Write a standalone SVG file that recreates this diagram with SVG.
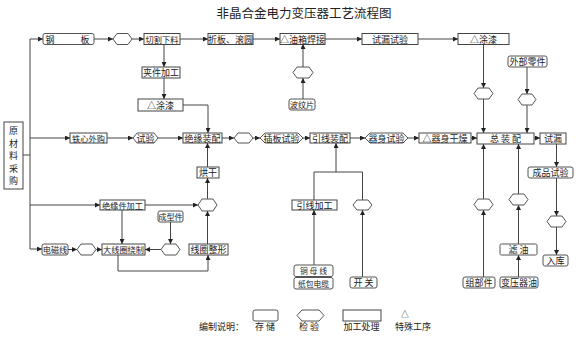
<svg xmlns="http://www.w3.org/2000/svg" width="578" height="340" viewBox="0 0 578 340">
<defs>
<marker id="ah" viewBox="0 0 6 6" refX="6" refY="3" markerWidth="5" markerHeight="5" orient="auto" markerUnits="userSpaceOnUse">
<path d="M0,0 L6,3 L0,6 z" fill="#222"/>
</marker>
</defs>
<style>
.b{fill:#fff;stroke:#444;stroke-width:1}
.s{fill:#fff;stroke:#555;stroke-width:1}
.h{fill:#fff;stroke:#555;stroke-width:1}
.t{font-family:"Noto Sans CJK SC","Liberation Sans",sans-serif;font-size:9px;fill:#222;text-anchor:middle}
.sm{font-size:8.2px}
.xs{font-size:7.8px}
.v{font-size:9px}
.ti{font-family:"Noto Sans CJK SC","Liberation Serif",serif;font-size:12.5px;fill:#222;text-anchor:middle}
.c path{fill:none;stroke:#444;stroke-width:1}
.c .a{marker-end:url(#ah)}
</style>
<rect width="578" height="340" fill="#fff"/>
<text class="ti" x="304" y="18">非晶合金电力变压器工艺流程图</text>

<g class="c" id="connectors">
<path d="M30 39 V249"/>
<path d="M23 155 H30"/>
<path class="a" d="M30 39 H43"/>
<path class="a" d="M30 138 H70"/>
<path class="a" d="M30 205 H100"/>
<path class="a" d="M30 249 H42"/>
<path class="a" d="M94 39 H113"/>
<path class="a" d="M132 39 H144"/>
<path class="a" d="M180 39 H208"/>
<path class="a" d="M253 39 H280"/>
<path class="a" d="M325 39 H362"/>
<path class="a" d="M418 39 H458"/>
<path class="a" d="M164 44 V67"/>
<path class="a" d="M164 78 V99"/>
<path class="a" d="M183 105 H208 V133"/>
<path class="a" d="M107 138 H133"/>
<path class="a" d="M158 138 H183"/>
<path class="a" d="M222 138 H234"/>
<path class="a" d="M253 138 H260"/>
<path class="a" d="M303 138 H310"/>
<path class="a" d="M350 138 H365"/>
<path class="a" d="M408 138 H419"/>
<path class="a" d="M471 138 H477"/>
<path class="a" d="M534 138 H540"/>
<path class="a" d="M145 205 H198"/>
<path class="a" d="M207.5 199 V178"/>
<path class="a" d="M207.5 167 V143"/>
<path class="a" d="M122 210 V244"/>
<path class="a" d="M170.5 222 V244"/>
<path class="a" d="M161 249.5 H145"/>
<path class="a" d="M68 249.5 H77"/>
<path class="a" d="M96 249.5 H102"/>
<path class="a" d="M118 255 V271 H208 V255"/>
<path class="a" d="M207.5 244 V211"/>
<path d="M314 200 V172 H362.5 V200"/>
<path class="a" d="M336 172 V143"/>
<path class="a" d="M314 265 V210"/>
<path class="a" d="M362.5 277 V210"/>
<path class="a" d="M303 99 V78"/>
<path class="a" d="M303 67 V44"/>
<path class="a" d="M483.5 44 V88"/>
<path class="a" d="M483.5 99 V133"/>
<path class="a" d="M527 67 V94"/>
<path class="a" d="M527 105 V133"/>
<path class="a" d="M483.5 277 V210"/>
<path class="a" d="M483.5 199 V144"/>
<path class="a" d="M518.5 277 V255"/>
<path class="a" d="M518.5 244 V205"/>
<path class="a" d="M518.5 194 V144"/>
<path class="a" d="M556.5 144 V167"/>
<path class="a" d="M556.5 178 V216"/>
<path class="a" d="M556.5 227 V255"/>
</g>

<g id="n-yuancailiao"><rect class="b" x="4" y="122" width="19" height="67"/>
<text class="t v" x="13.5" y="134">原</text>
<text class="t v" x="13.5" y="146.5">材</text>
<text class="t v" x="13.5" y="159">料</text>
<text class="t v" x="13.5" y="171.5">采</text>
<text class="t v" x="13.5" y="184">购</text></g>

<g id="n-gangban"><rect class="s" x="43" y="33.5" width="51" height="11" rx="2"/>
<text class="t" x="50" y="42.5">钢</text><text class="t" x="85" y="42.5">板</text></g>
<g id="n-hex1"><polygon class="h" points="113,39 117,33.5 128,33.5 132,39 128,44.5 117,44.5"/></g>
<g id="n-qiege"><rect class="b" x="144" y="33.5" width="36" height="11"/><text class="t sm" x="162" y="42.5">切割下料</text></g>
<g id="n-zheban"><rect class="b" x="208" y="33.5" width="45" height="11"/><text class="t" x="230.5" y="42.5">折板、滚圆</text></g>
<g id="n-youxiang"><rect class="b" x="280" y="33.5" width="45" height="11"/><text class="t" x="302.5" y="42.5">△油箱焊接</text></g>
<g id="n-shilou1"><rect class="b" x="362" y="33.5" width="56" height="11"/><text class="t" x="390" y="42.5">试漏试验</text></g>
<g id="n-tuqi1"><rect class="b" x="458" y="33.5" width="51" height="11"/><text class="t" x="483.5" y="42.5">△涂漆</text></g>
<g id="n-waibu"><rect class="s" x="508" y="56" width="39" height="11" rx="2"/><text class="t" x="527.5" y="65">外部零件</text></g>
<g id="n-jiajian"><rect class="b" x="142" y="67" width="38" height="11"/><text class="t" x="161" y="76">夹件加工</text></g>
<g id="n-hex2"><polygon class="h" points="293,72.5 297,67 309,67 313,72.5 309,78 297,78"/></g>
<g id="n-bowen"><rect class="s" x="289" y="99" width="26" height="11" rx="2"/><text class="t sm" x="302" y="108">波纹片</text></g>
<g id="n-hex3"><polygon class="h" points="474,93.5 478,88 489,88 493,93.5 489,99 478,99"/></g>
<g id="n-hex4"><polygon class="h" points="518,99.5 522,94 532,94 536,99.5 532,105 522,105"/></g>
<g id="n-tuqi2"><rect class="b" x="138" y="99" width="45" height="12"/><text class="t" x="160.5" y="108.5">△涂漆</text></g>

<g id="n-tiexin"><rect class="b" x="70" y="133" width="37" height="10"/><text class="t sm" x="88.5" y="141.5">铁心外购</text></g>
<g id="n-shiyan"><polygon class="h" points="133,138 137,133 154,133 158,138 154,143 137,143"/><text class="t" x="145.5" y="141.5">试验</text></g>
<g id="n-jueyuan"><rect class="b" x="183" y="133" width="39" height="10"/><text class="t" x="202.5" y="141.5">绝缘装配</text></g>
<g id="n-hex5"><polygon class="h" points="234,138 238,133 249,133 253,138 249,143 238,143"/></g>
<g id="n-chaban"><polygon class="h" points="260,138 265,133 298,133 303,138 298,143 265,143"/><text class="t" x="281.5" y="141.5">插板试验</text></g>
<g id="n-yinxianzp"><rect class="b" x="310" y="133" width="40" height="10"/><text class="t" x="330" y="141.5">引线装配</text></g>
<g id="n-qishen"><polygon class="h" points="365,138 370,133 403,133 408,138 403,143 370,143"/><text class="t" x="386.5" y="141.5">器身试验</text></g>
<g id="n-ganzao"><rect class="b" x="419" y="133" width="52" height="10"/><text class="t" x="445" y="141.5">△器身干燥</text></g>
<g id="n-zongzhuang"><rect class="b" x="477" y="133" width="57" height="11"/><text class="t" x="505.5" y="141.5">总 装 配</text></g>
<g id="n-shilou2"><rect class="b" x="540" y="133" width="26" height="11"/><text class="t" x="553" y="141.5">试漏</text></g>
<g id="n-chengpin"><rect class="s" x="528" y="167" width="45" height="11" rx="2"/><text class="t" x="550.5" y="176">成品试验</text></g>
<g id="n-honggan"><rect class="b" x="197" y="167" width="22" height="11"/><text class="t" x="208" y="176">烘干</text></g>

<g id="n-jueyuanjian"><rect class="b" x="100" y="200" width="45" height="10"/><text class="t sm" x="122.5" y="208.5">绝缘件加工</text></g>
<g id="n-hex6"><polygon class="h" points="198,205 202,199 213,199 217,205 213,211 202,211"/></g>
<g id="n-chengxing"><rect class="s" x="158" y="211" width="25" height="11" rx="2"/><text class="t sm" x="170.5" y="220">成型件</text></g>
<g id="n-yinxianjg"><rect class="b" x="292" y="200" width="45" height="10"/><text class="t" x="314.5" y="208.5">引线加工</text></g>
<g id="n-hex7"><polygon class="h" points="353,205 357,200 368,200 372,205 368,210 357,210"/></g>
<g id="n-hex8"><polygon class="h" points="474,204.5 478,199 489,199 493,204.5 489,210 478,210"/></g>
<g id="n-hex9"><polygon class="h" points="509,199.5 513,194 524,194 528,199.5 524,205 513,205"/></g>
<g id="n-hex10"><polygon class="h" points="547,221.5 551,216 562,216 566,221.5 562,227 551,227"/></g>

<g id="n-diancixian"><rect class="s" x="42" y="244" width="26" height="11" rx="2"/><text class="t sm" x="55" y="253">电磁线</text></g>
<g id="n-hex12"><polygon class="h" points="77,249.5 81,244 92,244 96,249.5 92,255 81,255"/></g>
<g id="n-raozhi"><rect class="b" x="102" y="244" width="43" height="11"/><text class="t sm" x="123.5" y="253">大线圈绕制</text></g>
<g id="n-hex11"><polygon class="h" points="161,249.5 165,244 176,244 180,249.5 176,255 165,255"/></g>
<g id="n-zhengxing"><rect class="b" x="189" y="244" width="39" height="11"/><text class="t" x="208.5" y="253">线圈整形</text></g>
<g id="n-lvyou"><rect class="s" x="500" y="244" width="37" height="11" rx="1.5"/><text class="t" x="518.5" y="253">滤 油</text></g>
<g id="n-ruku"><rect class="s" x="543" y="255" width="25" height="11" rx="2"/><text class="t" x="555.5" y="264">入库</text></g>
<g id="n-tongmu"><rect class="s" x="294" y="265" width="39" height="11.5" rx="2"/><text class="t xs" x="313.5" y="273.5">铜 母 线</text>
<rect class="s" x="294" y="277.5" width="39" height="11.5" rx="2"/><text class="t xs" x="313.5" y="286.5">纸包电缆</text></g>
<g id="n-kaiguan"><rect class="s" x="350" y="277" width="27" height="11" rx="2"/><text class="t" x="363.5" y="286">开 关</text></g>
<g id="n-zubujian"><rect class="s" x="463" y="277" width="32" height="11" rx="2"/><text class="t" x="479" y="286">组部件</text></g>
<g id="n-byqyou"><rect class="s" x="500" y="277" width="38" height="11" rx="2"/><text class="t" x="519" y="286">变压器油</text></g>

<g id="legend">
<text class="t" x="221.5" y="330">编制说明：</text>
<rect class="s" x="253" y="310" width="25" height="11" rx="2"/>
<text class="t" x="265" y="330">存 储</text>
<polygon class="h" points="297,315.5 302,310 319,310 324,315.5 319,321 302,321"/>
<text class="t" x="309" y="330">检 验</text>
<rect class="b" x="343" y="310" width="38" height="11"/>
<text class="t" x="361.5" y="330">加工处理</text>
<text class="t xs" x="405" y="316.5">△</text>
<text class="t" x="413" y="330">特殊工序</text>
</g>
</svg>
